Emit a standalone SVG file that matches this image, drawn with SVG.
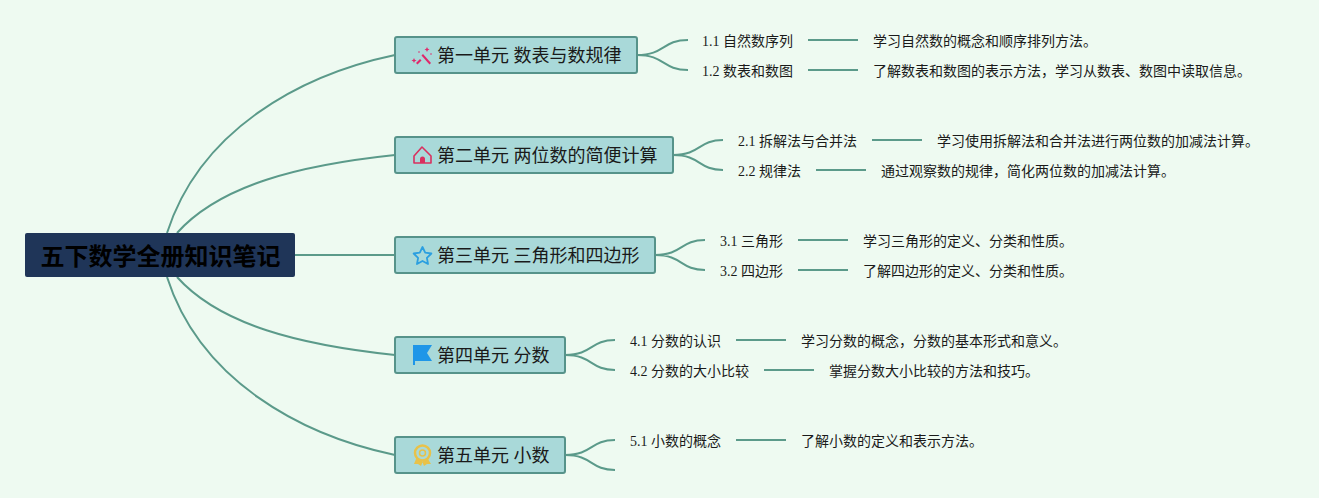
<svg xmlns="http://www.w3.org/2000/svg" width="1319" height="498" viewBox="0 0 1319 498">
<style>
text{font-family:"Liberation Serif","Noto Sans CJK SC",serif;fill:#1a1a1a}
.c{fill:none;stroke:#5b9a8a;stroke-width:2}
.u{fill:#a9d9d9;stroke:#56938a;stroke-width:2}
.ut{font-size:18px}
.t{font-size:14px}
</style>
<rect width="1319" height="498" fill="#eefaf1"/>
<g id="connectors">
<path class="c" d="M295 255H395"/>
<path class="c" d="M167 233C200 130 300 75 395 55"/>
<path class="c" d="M177 233C220 185 300 165 395 155"/>
<path class="c" d="M177 277C220 325 300 345 395 355"/>
<path class="c" d="M167 277C200 380 300 435 395 455"/>
<path class="c" d="M637 55C665 55 662 40 688 40M637 55C665 55 662 70 688 70M808 40H858M808 70H858"/>
<path class="c" d="M673 155C701 155 698 140 723 140M673 155C701 155 698 170 723 170M872 140H922M816 170H866"/>
<path class="c" d="M655 255C683 255 680 240 705 240M655 255C683 255 680 270 705 270M798 240H848M798 270H848"/>
<path class="c" d="M565 355C593 355 590 340 615 340M565 355C593 355 590 370 615 370M736 340H786M764 370H814"/>
<path class="c" d="M565 455C593 455 590 440 615 440M565 455C593 455 590 470 615 470M736 440H786"/>
</g>
<g id="root"><rect x="25" y="233" width="270" height="44" rx="2" fill="#1f3558"/><text x="160.500" y="265" text-anchor="middle" font-size="24" font-weight="700" style="fill:#000;font-family:'Noto Sans CJK SC',sans-serif">五下数学全册知识笔记</text></g>
<g id="unit1"><rect class="u" x="395" y="37" width="242" height="36" rx="2"/>
<g fill="#e0286a"><path d="M423 54L431 63 429.500 64.500 421.500 55.500Z"/><path d="M420 59L421.500 60.500 417.500 64.500 416 63Z"/><path d="M414 58l.8 1.700 1.700.8-1.700.8-.8 1.700-.8-1.700-1.700-.8 1.700-.8Z"/><path d="M427 47l.8 1.700 1.700.8-1.700.8-.8 1.700-.8-1.700-1.700-.8 1.700-.8Z"/><circle cx="419" cy="52" r=".8"/><circle cx="431" cy="54" r=".8"/></g>
<text class="ut" x="437" y="62">第一单元 数表与数规律</text></g>
<g id="unit1-1"><text class="t" x="702" y="46">1.1 自然数序列</text><text class="t" x="873" y="46">学习自然数的概念和顺序排列方法。</text></g>
<g id="unit1-2"><text class="t" x="702" y="76">1.2 数表和数图</text><text class="t" x="873" y="76">了解数表和数图的表示方法，学习从数表、数图中读取信息。</text></g>
<g id="unit2"><rect class="u" x="395" y="137" width="278" height="36" rx="2"/>
<path d="M422 147L431 156V163H414V156Z" fill="none" stroke="#d9305f" stroke-width="1.600" stroke-linejoin="round"/><path d="M420 163V159a2.500 2.500 0 0 1 5 0V163Z" fill="#d9305f"/>
<text class="ut" x="437" y="162">第二单元 两位数的简便计算</text></g>
<g id="unit2-1"><text class="t" x="738" y="146">2.1 拆解法与合并法</text><text class="t" x="937" y="146">学习使用拆解法和合并法进行两位数的加减法计算。</text></g>
<g id="unit2-2"><text class="t" x="738" y="176">2.2 规律法</text><text class="t" x="881" y="176">通过观察数的规律，简化两位数的加减法计算。</text></g>
<g id="unit3"><rect class="u" x="395" y="237" width="260" height="36" rx="2"/>
<path d="M422.500 247L425.200 252.700 431.400 253.500 426.900 257.800 428 264 422.500 261 417 264 418.100 257.800 413.600 253.500 419.800 252.700Z" fill="none" stroke="#2b9fe0" stroke-width="1.800" stroke-linejoin="round"/>
<text class="ut" x="437" y="262">第三单元 三角形和四边形</text></g>
<g id="unit3-1"><text class="t" x="720" y="246">3.1 三角形</text><text class="t" x="863" y="246">学习三角形的定义、分类和性质。</text></g>
<g id="unit3-2"><text class="t" x="720" y="276">3.2 四边形</text><text class="t" x="863" y="276">了解四边形的定义、分类和性质。</text></g>
<g id="unit4"><rect class="u" x="395" y="337" width="170" height="36" rx="2"/>
<path d="M413 345H432L427 353 432 361H415V365H413Z" fill="#1e96e8"/>
<text class="ut" x="437" y="362">第四单元 分数</text></g>
<g id="unit4-1"><text class="t" x="630" y="346">4.1 分数的认识</text><text class="t" x="801" y="346">学习分数的概念，分数的基本形式和意义。</text></g>
<g id="unit4-2"><text class="t" x="630" y="376">4.2 分数的大小比较</text><text class="t" x="829" y="376">掌握分数大小比较的方法和技巧。</text></g>
<g id="unit5"><rect class="u" x="395" y="437" width="170" height="36" rx="2"/>
<path d="M416 459L414 464 418 464 421 466 423 461ZM428 459L431 464 427 464 424 466 422 461Z" fill="#e8c24a"/><circle cx="422.500" cy="453" r="7.500" fill="none" stroke="#e8c24a" stroke-width="2.500"/><circle cx="422.500" cy="453" r="3" fill="none" stroke="#e8c24a" stroke-width="1.500"/>
<text class="ut" x="437" y="462">第五单元 小数</text></g>
<g id="unit5-1"><text class="t" x="630" y="446">5.1 小数的概念</text><text class="t" x="801" y="446">了解小数的定义和表示方法。</text></g>
</svg>
